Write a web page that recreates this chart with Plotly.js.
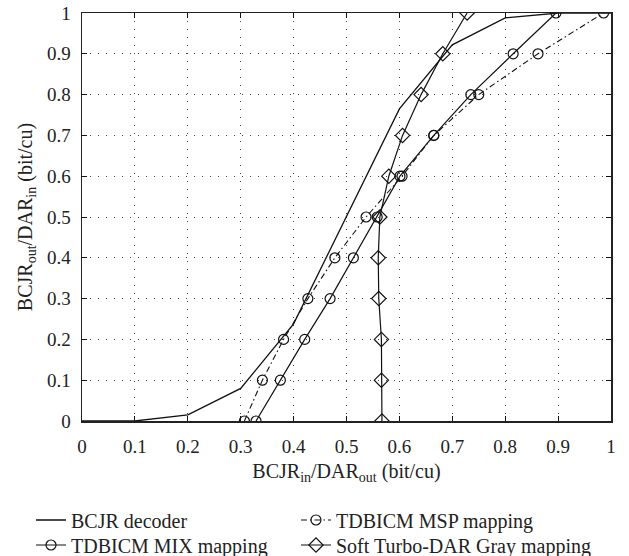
<!DOCTYPE html>
<html>
<head>
<meta charset="utf-8">
<script src="https://cdn.plot.ly/plotly-3.0.1.min.js"></script>
<style>
html,body{margin:0;padding:0;background:#fff;font-family:"Liberation Serif",serif;}
#chart text{font-family:"Liberation Serif","Times New Roman",serif !important;}
</style>
</head>
<body>
<div id="chart" style="width:629px;height:556px;"></div>
<script>
// Data
var bcjrX = [0, 0.1, 0.2, 0.3, 0.4, 0.5, 0.6, 0.7, 0.8, 0.9, 1.0];
var bcjrY = [0, 0, 0.015, 0.08, 0.238, 0.5, 0.765, 0.922, 0.988, 1.0, 1.0];

var mspX = [0.307, 0.341, 0.381, 0.427, 0.478, 0.537, 0.605, 0.665, 0.750, 0.862, 0.986];
var mspY = [0, 0.1, 0.2, 0.3, 0.4, 0.5, 0.6, 0.7, 0.8, 0.9, 1.0];

var mixX = [0.329, 0.375, 0.421, 0.469, 0.513, 0.558, 0.601, 0.665, 0.735, 0.815, 0.896];
var mixY = [0, 0.1, 0.2, 0.3, 0.4, 0.5, 0.6, 0.7, 0.8, 0.9, 1.0];

var grayX = [0.567, 0.566, 0.566, 0.561, 0.560, 0.563, 0.580, 0.606, 0.641, 0.682, 0.728];
var grayY = [0, 0.1, 0.2, 0.3, 0.4, 0.5, 0.6, 0.7, 0.8, 0.9, 1.0];

var tickVals = [0, 0.1, 0.2, 0.3, 0.4, 0.5, 0.6, 0.7, 0.8, 0.9, 1];
var tickText = ["0", "0.1", "0.2", "0.3", "0.4", "0.5", "0.6", "0.7", "0.8", "0.9", "1"];

var seriesNames = ["BCJR decoder", "TDBICM MSP mapping", "TDBICM MIX mapping", "Soft Turbo-DAR Gray mapping"];

var FONT = "Liberation Serif";

var traces = [
  {x: bcjrX, y: bcjrY, name: seriesNames[0], mode: "lines", legend: "legend",
   line: {color: "#111", width: 1.3}},
  {x: mspX, y: mspY, name: seriesNames[1], mode: "lines+markers", legend: "legend2",
   line: {color: "#111", width: 1.1, dash: "6px,3px,1.5px,3px"},
   marker: {symbol: "circle-open", size: 10, color: "#111", line: {width: 1.2}}},
  {x: mixX, y: mixY, name: seriesNames[2], mode: "lines+markers", legend: "legend3",
   line: {color: "#111", width: 1.2},
   marker: {symbol: "circle-open", size: 10, color: "#111", line: {width: 1.2}}},
  {x: grayX, y: grayY, name: seriesNames[3], mode: "lines+markers", legend: "legend4",
   line: {color: "#111", width: 1.2},
   marker: {symbol: "diamond-open", size: 11, color: "#111", line: {width: 1.2}}}
];

var axisCommon = {
  range: [0, 1],
  tickvals: tickVals,
  ticktext: tickText,
  ticks: "inside",
  ticklen: 5,
  tickwidth: 1,
  tickcolor: "#111",
  showline: true,
  linecolor: "#222",
  linewidth: 1.5,
  mirror: "allticks",
  showgrid: true,
  gridcolor: "#444",
  gridwidth: 1,
  griddash: "1px,7px",
  zeroline: false,
  tickfont: {family: FONT, size: 19, color: "#222"},
  fixedrange: true
};

function legendAt(xPaper, yPaper) {
  return {
    orientation: "v",
    x: xPaper,
    xanchor: "left",
    y: yPaper,
    yanchor: "middle",
    tracegroupgap: 0,
    itemwidth: 30,
    font: {family: FONT, size: 20, color: "#222"},
    bgcolor: "rgba(0,0,0,0)"
  };
}

var layout = {
  width: 629,
  height: 556,
  margin: {l: 82, r: 18, t: 13, b: 135, autoexpand: false},
  paper_bgcolor: "#fff",
  plot_bgcolor: "#fff",
  font: {family: FONT, size: 19, color: "#222"},
  xaxis: Object.assign({}, axisCommon, {
    ticklabelstandoff: 8,
    title: {text: "BCJR<sub>in</sub>/DAR<sub>out</sub> (bit/cu)", font: {family: FONT, size: 20, color: "#222"}, standoff: 7}
  }),
  yaxis: Object.assign({}, axisCommon, {
    ticklabelstandoff: 6,
    title: {text: "BCJR<sub>out</sub>/DAR<sub>in</sub> (bit/cu)", font: {family: FONT, size: 20, color: "#222"}}
  }),
  showlegend: true,
  legend: legendAt(-0.0964, -0.2426),
  legend2: legendAt(0.4045, -0.2426),
  legend3: legendAt(-0.0964, -0.3039),
  legend4: legendAt(0.4045, -0.3039)
};

Plotly.newPlot("chart", traces, layout, {displayModeBar: false, staticPlot: true});
</script>
</body>
</html>
